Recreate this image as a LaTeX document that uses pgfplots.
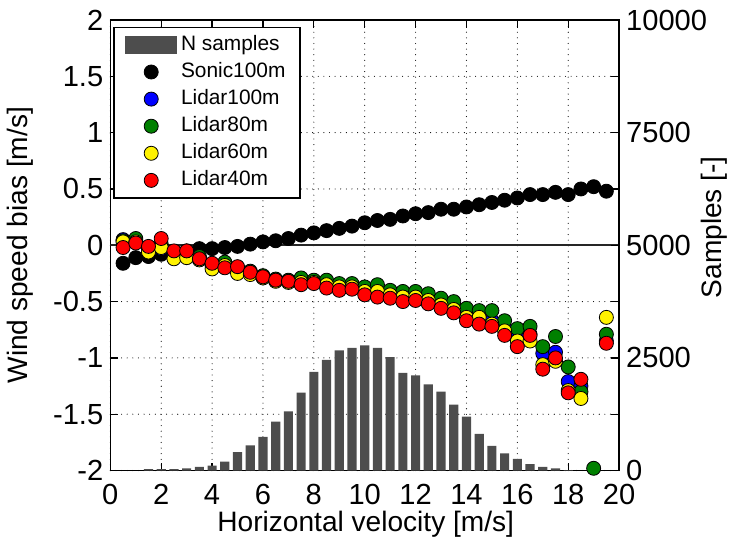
\documentclass[border={0pt 4.5pt 0pt 1.5pt}]{standalone}
\usepackage{fontspec}
\setmainfont{Liberation Sans}
\usepackage{pgfplots}
\pgfplotsset{compat=1.18}
\definecolor{bargray}{RGB}{77,77,77}
\definecolor{lgreen}{RGB}{0,128,0}

\pgfplotsset{
  base/.style={
    scale only axis, width=253.5pt, height=224.5pt,
    xmin=0, xmax=20, enlargelimits=false,
    tick align=inside, major tick length=4pt,
    axis line style={line width=0.7pt},
    every tick/.style={black, line width=0.6pt},
    tick label style={font=\fontsize{14.5}{17}\selectfont},
    label style={font=\fontsize{14}{17}\selectfont},
    /pgf/number format/assume math mode=true,
  },
  pts/.style={only marks, mark=*, mark size=3.5pt,
    mark options={draw=black, line width=0.4pt, fill=#1}},
}

\begin{document}
\begin{tikzpicture}
% left axis: grid, ticks, labels
\begin{axis}[base,
    ymin=-2, ymax=2,
    xtick={0,2,...,20},
    ytick={-2,-1.5,...,2},
    grid=major,
    grid style={black, line width=0.55pt, line cap=round, dash pattern=on 0pt off 2.8pt},
    xticklabel style={yshift=-3.5pt},
    xlabel={Horizontal velocity [m/s]},
    ylabel={Wind speed bias [m/s]},
    xlabel style={at={(axis description cs:0.502,-0.12)}, anchor=center},
    ylabel style={at={(axis description cs:-0.178,0.5)}, anchor=center, rotate=0},
]
\addplot[black!85, line width=0.8pt] coordinates {(0,0) (20,0)};
\end{axis}

% right axis: number of samples
\begin{axis}[base,
    ymin=0, ymax=10000,
    axis y line*=right, axis x line=none,
    ytick={0,2500,...,10000},
    scaled y ticks=false,
    yticklabel style={/pgf/number format/1000 sep={}, /pgf/number format/fixed},
    ylabel={Samples [-]},
    ylabel style={at={(axis description cs:1.187,0.54)}, anchor=center, rotate=0},
    ybar, bar width=0.36, bar shift=0pt,
]
\addplot[fill=bargray, draw=none] coordinates {
  (1.5,30) (2.0,30) (2.5,30) (3.0,50) (3.5,80) (4.0,110) (4.5,200)
  (5.0,410) (5.5,560) (6.0,750) (6.5,1085) (7.0,1315) (7.5,1730)
  (8.0,2190) (8.5,2455) (9.0,2665) (9.5,2725) (10.0,2780) (10.5,2725)
  (11.0,2515) (11.5,2170) (12.0,2110) (12.5,1910) (13.0,1750)
  (13.5,1465) (14.0,1195) (14.5,815) (15.0,550) (15.5,380) (16.0,260)
  (16.5,140) (17.0,80) (17.5,50) (18.0,12)
};
\end{axis}

% bias points and legend
\begin{axis}[base,
    ymin=-2, ymax=2, hide axis,
    legend cell align=left,
    legend image code/.code={\path (0pt,0pt) (25.5pt,0pt);
      \draw[#1] plot coordinates {(12.75pt,0pt)};},
    legend style={at={(axis description cs:0.006,0.985)}, anchor=north west,
      draw=black, line width=0.6pt, fill=white,
      font=\fontsize{10.4}{12}\selectfont,
      inner xsep=5.5pt, inner ysep=2pt,
      nodes={inner xsep=1.8pt, inner ysep=1.5pt, text height=8pt, text depth=2.5pt}},
]
\addlegendimage{legend image code/.code={\fill[bargray] (0pt,-4.3pt) rectangle (25.5pt,4.3pt);}}
\addlegendentry{N samples}

\addplot[pts=black] coordinates {
  (0.5,-0.16) (1.0,-0.11) (1.5,-0.10) (2.0,-0.08) (2.5,-0.06) (3.0,-0.05)
  (3.5,-0.03) (4.0,-0.03) (4.5,-0.02) (5.0,-0.01) (5.5,0.01) (6.0,0.03)
  (6.5,0.04) (7.0,0.06) (7.5,0.09) (8.0,0.11) (8.5,0.13) (9.0,0.15)
  (9.5,0.17) (10.0,0.20) (10.5,0.22) (11.0,0.23) (11.5,0.26) (12.0,0.28)
  (12.5,0.29) (13.0,0.32) (13.5,0.32) (14.0,0.34) (14.5,0.36) (15.0,0.38)
  (15.5,0.40) (16.0,0.42) (16.5,0.45) (17.0,0.45) (17.5,0.47) (18.0,0.45)
  (18.5,0.50) (19.0,0.52) (19.5,0.48)
};
\addlegendentry{Sonic100m}

\addplot[pts=blue] coordinates {
  (0.5,0.05) (1.0,0.04) (1.5,-0.04) (2.0,-0.03) (2.5,-0.08) (3.0,-0.08)
  (3.5,-0.11) (4.0,-0.18) (4.5,-0.17) (5.0,-0.21) (5.5,-0.24) (6.0,-0.28)
  (6.5,-0.31) (7.0,-0.32) (7.5,-0.31) (8.0,-0.32) (8.5,-0.33) (9.0,-0.36)
  (9.5,-0.36) (10.0,-0.39) (10.5,-0.38) (11.0,-0.42) (11.5,-0.43) (12.0,-0.43)
  (12.5,-0.46) (13.0,-0.50) (13.5,-0.54) (14.0,-0.62) (14.5,-0.63) (15.0,-0.67)
  (15.5,-0.73) (16.0,-0.81) (16.5,-0.79) (17.0,-0.96) (17.5,-0.95) (18.0,-1.21)
  (18.5,-1.25) (19.5,-0.85)
};
\addlegendentry{Lidar100m}

\addplot[pts=lgreen] coordinates {
  (0.5,0.04) (1.0,0.06) (1.5,-0.03) (2.0,0.01) (2.5,-0.07) (3.0,-0.08)
  (3.5,-0.10) (4.0,-0.17) (4.5,-0.15) (5.0,-0.20) (5.5,-0.23) (6.0,-0.27)
  (6.5,-0.30) (7.0,-0.31) (7.5,-0.29) (8.0,-0.31) (8.5,-0.31) (9.0,-0.34)
  (9.5,-0.34) (10.0,-0.37) (10.5,-0.35) (11.0,-0.40) (11.5,-0.41) (12.0,-0.41)
  (12.5,-0.43) (13.0,-0.47) (13.5,-0.50) (14.0,-0.56) (14.5,-0.58) (15.0,-0.58)
  (15.5,-0.67) (16.0,-0.74) (16.5,-0.72) (17.0,-0.90) (17.5,-0.81) (18.0,-1.08)
  (18.5,-1.30) (19.0,-1.98) (19.5,-0.79)
};
\addlegendentry{Lidar80m}

\addplot[pts=yellow] coordinates {
  (0.5,0.03) (1.0,0.03) (1.5,-0.06) (2.0,-0.02) (2.5,-0.12) (3.0,-0.11)
  (3.5,-0.13) (4.0,-0.21) (4.5,-0.18) (5.0,-0.25) (5.5,-0.26) (6.0,-0.29)
  (6.5,-0.32) (7.0,-0.33) (7.5,-0.33) (8.0,-0.33) (8.5,-0.35) (9.0,-0.37)
  (9.5,-0.37) (10.0,-0.41) (10.5,-0.41) (11.0,-0.44) (11.5,-0.46) (12.0,-0.46)
  (12.5,-0.49) (13.0,-0.53) (13.5,-0.57) (14.0,-0.64) (14.5,-0.64) (15.0,-0.70)
  (15.5,-0.76) (16.0,-0.85) (16.5,-0.85) (17.0,-1.06) (17.5,-1.03) (18.0,-1.29)
  (18.5,-1.36) (19.5,-0.64)
};
\addlegendentry{Lidar60m}

\addplot[pts=red] coordinates {
  (0.5,-0.02) (1.0,0.02) (1.5,-0.01) (2.0,0.06) (2.5,-0.05) (3.0,-0.05)
  (3.5,-0.12) (4.0,-0.16) (4.5,-0.20) (5.0,-0.19) (5.5,-0.24) (6.0,-0.28)
  (6.5,-0.31) (7.0,-0.32) (7.5,-0.35) (8.0,-0.34) (8.5,-0.38) (9.0,-0.40)
  (9.5,-0.39) (10.0,-0.44) (10.5,-0.46) (11.0,-0.47) (11.5,-0.50) (12.0,-0.49)
  (12.5,-0.52) (13.0,-0.56) (13.5,-0.60) (14.0,-0.67) (14.5,-0.70) (15.0,-0.72)
  (15.5,-0.80) (16.0,-0.90) (16.5,-0.80) (17.0,-1.10) (17.5,-1.00) (18.0,-1.31)
  (18.5,-1.19) (19.5,-0.87)
};
\addlegendentry{Lidar40m}
\end{axis}
\end{tikzpicture}
\end{document}
